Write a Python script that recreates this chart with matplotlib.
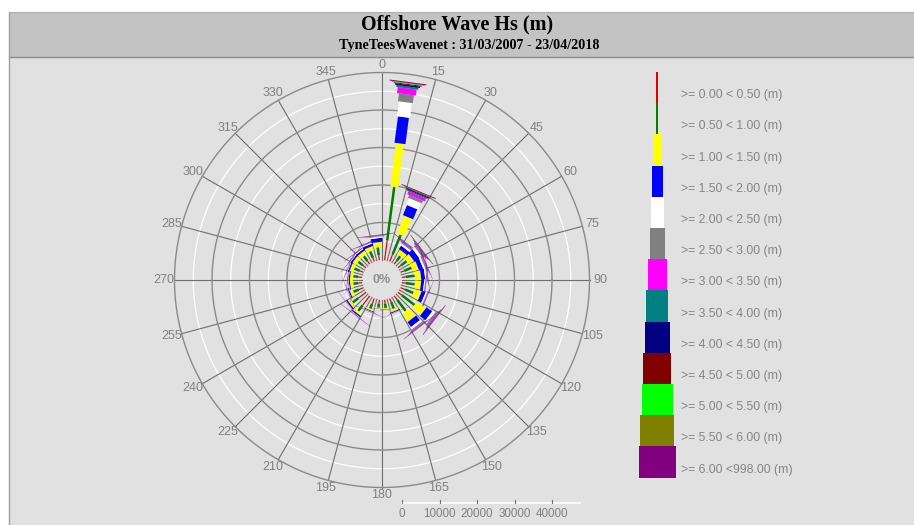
import numpy as np
import matplotlib
matplotlib.use("Agg")
import matplotlib.pyplot as plt
from matplotlib.patches import Polygon, Rectangle

# ---------------- data ----------------
directions = [7.5 + 15 * i for i in range(24)]  # petal centre bearings (deg)

bin_labels = [">= 0.00 < 0.50 (m)", ">= 0.50 < 1.00 (m)", ">= 1.00 < 1.50 (m)",
              ">= 1.50 < 2.00 (m)", ">= 2.00 < 2.50 (m)", ">= 2.50 < 3.00 (m)",
              ">= 3.00 < 3.50 (m)", ">= 3.50 < 4.00 (m)", ">= 4.00 < 4.50 (m)",
              ">= 4.50 < 5.00 (m)", ">= 5.00 < 5.50 (m)", ">= 5.50 < 6.00 (m)",
              ">= 6.00 <998.00 (m)"]

hs_000_050 = [5300, 2100, 1070, 1070, 1070, 1070, 1070, 1330, 1330, 1330, 1070, 1070,
              1070, 1600, 3200, 2600, 1330, 1070, 1070, 1070, 1070, 1070, 1070, 1330]
hs_050_100 = [14400, 5600, 1600, 1870, 2130, 2400, 2400, 2400, 4270, 3730, 1870, 1200,
              1070, 1330, 1870, 1870, 1600, 1330, 1330, 1600, 1600, 1600, 1870, 2130]
hs_100_150 = [11700, 5100, 1330, 1600, 1600, 1600, 1600, 1870, 2930, 2670, 670, 270,
              210, 400, 670, 800, 800, 800, 800, 930, 1070, 1070, 1070, 1330]
hs_150_200 = [7100, 2900, 1070, 1600, 1200, 1070, 800, 1070, 1870, 1600, 270, 80,
              50, 210, 400, 400, 320, 320, 320, 400, 480, 530, 670, 1070]
hs_200_250 = [4000, 1900, 530, 800, 530, 400, 270, 400, 800, 670, 80, 30,
              15, 80, 130, 80, 80, 110, 110, 130, 160, 210, 270, 400]
hs_250_300 = [2100, 800, 270, 400, 270, 160, 110, 160, 320, 270, 30, 0,
              0, 30, 50, 30, 30, 30, 50, 50, 50, 80, 110, 130]
hs_300_350 = [1600, 800, 210, 270, 190, 110, 80, 110, 270, 190, 15, 0,
              0, 30, 30, 15, 30, 30, 30, 30, 50, 50, 80, 110]
hs_350_400 = [530, 320, 110, 130, 80, 50, 30, 50, 130, 80, 0, 0,
              0, 15, 15, 0, 15, 15, 15, 15, 30, 30, 30, 50]
hs_400_450 = [400, 270, 80, 110, 50, 30, 30, 30, 110, 50, 0, 0,
              0, 15, 15, 0, 0, 0, 15, 15, 15, 30, 30, 30]
hs_450_500 = [270, 160, 50, 50, 30, 15, 0, 15, 50, 30, 0, 0,
              0, 0, 0, 0, 0, 0, 0, 0, 15, 15, 15, 30]
hs_500_550 = [130, 80, 30, 30, 15, 0, 0, 0, 30, 15, 0, 0,
              0, 0, 0, 0, 0, 0, 0, 0, 0, 0, 0, 15]
hs_550_600 = [130, 80, 30, 30, 15, 0, 0, 0, 30, 15, 0, 0,
              0, 0, 0, 0, 0, 0, 0, 0, 0, 0, 0, 15]
hs_600_998 = [270, 210, 110, 130, 80, 60, 60, 60, 150, 110, 40, 20,
              20, 60, 80, 60, 50, 50, 60, 60, 70, 80, 90, 110]

bins = [hs_000_050, hs_050_100, hs_100_150, hs_150_200, hs_200_250, hs_250_300,
        hs_300_350, hs_350_400, hs_400_450, hs_450_500, hs_500_550, hs_550_600,
        hs_600_998]

scale_ticks = [0, 10000, 20000, 30000, 40000]
angle_ticks = list(range(0, 360, 15))

# ---------------- style ----------------
colors = ["#e00000", "#008000", "#ffff00", "#0000ff", "#ffffff", "#808080",
          "#ff00ff", "#008080", "#000080", "#800000", "#00ff00", "#808000",
          "#800080"]
widths_px = [1.2, 2.5, 8, 11, 13, 15, 19, 22, 25, 28, 31, 34, 37]

W, H = 914, 525
fig = plt.figure(figsize=(W / 100, H / 100), dpi=100)
fig.patch.set_facecolor("white")

bg = fig.add_axes([0, 0, 1, 1])
bg.set_xlim(0, W)
bg.set_ylim(H, 0)
bg.axis("off")

# title band and plot panel
bg.add_patch(Rectangle((9, 12), W - 9, 45, facecolor="#c3c3c3", edgecolor="none"))
bg.add_patch(Rectangle((9, 57), W - 9, H - 57, facecolor="#e1e1e1", edgecolor="none"))
bg.plot([9, W], [57, 57], color="#8c8c8c", lw=1)
bg.plot([9, 9], [12, H], color="#a0a0a0", lw=1)
bg.plot([9, W], [12, 12], color="#b0b0b0", lw=0.8)

bg.text(457, 24, "Offshore Wave Hs (m)", ha="center", va="center",
        fontsize=14.5, fontweight="bold", family="Liberation Serif", color="black")
bg.text(469, 45, "TyneTeesWavenet : 31/03/2007 - 23/04/2018", ha="center",
        va="center", fontsize=10.2, fontweight="bold", family="Liberation Serif",
        color="black")

# legend
leg_top, leg_h, leg_x = 72, 31.2, 657
for b in range(len(bins)):
    w = widths_px[b]
    bg.add_patch(Rectangle((leg_x - w / 2, leg_top + b * leg_h), w, leg_h,
                           facecolor=colors[b], edgecolor="none"))
    bg.text(681, leg_top + b * leg_h + leg_h / 2 + 7.5, bin_labels[b], ha="left",
            va="center", fontsize=8.8, color="#858585", family="Liberation Sans")

# ---------------- rose axes ----------------
PX = 37.5 / 10000.0        # pixels per count
cx, cy = 382, 280
x0, x1, y0, y1 = 140, 624, 57, 525
ax = fig.add_axes([x0 / W, (H - y1) / H, (x1 - x0) / W, (y1 - y0) / H])
ax.set_xlim((x0 - cx) / PX, (x1 - cx) / PX)
ax.set_ylim(-(y1 - cy) / PX, (cy - y0) / PX)
ax.axis("off")
ax.patch.set_alpha(0)

R0 = 20 / PX
Rmax = R0 + 50000
t = np.linspace(0, 2 * np.pi, 400)
for k in range(5):
    r = R0 + 5000 + k * 10000
    ax.plot(r * np.cos(t), r * np.sin(t), color="white", lw=0.9, zorder=1)
for k in range(1, 6):
    r = R0 + k * 10000
    ax.plot(r * np.cos(t), r * np.sin(t), color="#8a8a8a", lw=1.0, zorder=1.2)
for a in angle_ticks:
    th = np.deg2rad(a)
    ax.plot([R0 * np.sin(th), Rmax * np.sin(th)], [R0 * np.cos(th), Rmax * np.cos(th)],
            color="#6e6e6e", lw=0.8, zorder=1.1)
    rx, ry = 218 / PX, 215.5 / PX
    ax.text(rx * np.sin(th), ry * np.cos(th), str(a), ha="center", va="center",
            fontsize=9, color="#808080", family="Liberation Sans")

# petals
for i, d in enumerate(directions):
    th = np.deg2rad(d)
    u = np.array([np.sin(th), np.cos(th)])
    n = np.array([np.cos(th), -np.sin(th)])
    cum = R0
    for b in range(len(bins)):
        c = bins[b][i]
        if c <= 0:
            continue
        r1, r2 = cum, cum + c
        hw = widths_px[b] / 2 / PX
        pts = [r1 * u - hw * n, r2 * u - hw * n, r2 * u + hw * n, r1 * u + hw * n]
        ax.add_patch(Polygon(pts, closed=True, facecolor=colors[b], edgecolor="none",
                             zorder=3))
        cum = r2

ax.text(0, 0, "0%", ha="center", va="center", fontsize=9, fontweight="bold",
        color="#909090", family="Liberation Sans", zorder=4)

# scale bar
ys = -(503 - cy) / PX
ax.plot([R0, R0 + 47500], [ys, ys], color="white", lw=1.2, zorder=2)
for v in scale_ticks:
    ax.plot([R0 + v, R0 + v], [ys, ys + 3 / PX], color="#707070", lw=0.8, zorder=2)
    ax.text(R0 + v, -(514 - cy) / PX, str(v), ha="center", va="center", fontsize=8.4,
            color="#808080", family="Liberation Sans")

fig.savefig("out.png", dpi=100)
